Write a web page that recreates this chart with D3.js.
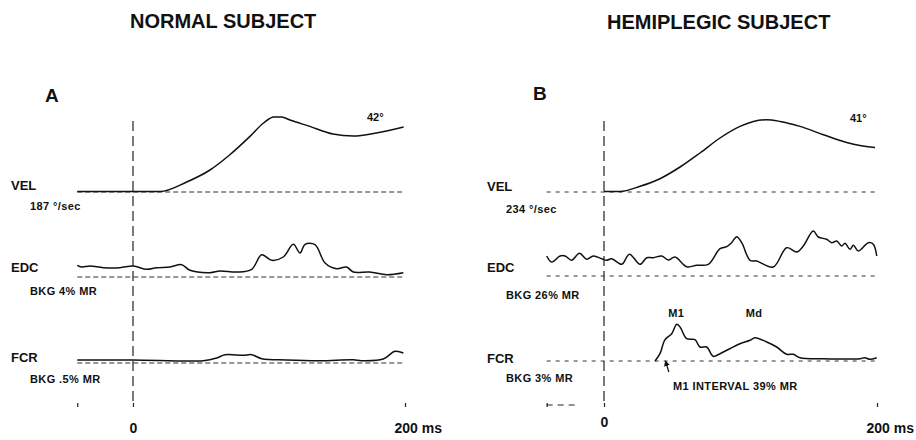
<!DOCTYPE html>
<html>
<head>
<meta charset="utf-8">
<script src="https://cdn.jsdelivr.net/npm/d3@7"></script>
<style>
  html, body { margin: 0; padding: 0; background: #fff; }
  svg { display: block; }
  text { font-family: "Liberation Sans", Arial, Helvetica, sans-serif; font-weight: bold; fill: #111; }
  .note { font-size: 11px; letter-spacing: 0.4px; }
</style>
</head>
<body>
<script>
// traces: [ms, amplitude above baseline]
const velA = [[-41,0.5],[0,0.5],[20,0.5],[39.5,10],[56.6,22],[71,37],[86,55.6],[96,69],[103.5,75],[109.3,75],
  [115.4,72],[130,65.6],[147,58],[162,56],[179,59],[199,65]];
const edcA = [[-41,11.7],[-37.7,10],[-31.6,11],[-21.8,9.3],[-9.6,9.3],[0.2,11],[10,7.7],[17.4,9.3],[27.2,10],
  [35.8,12.3],[41.9,6.7],[56.6,4.3],[64,6],[76.2,5],[87.3,7.7],[94.6,22.3],[102,16.7],[110.5,20],[117.9,32.7],
  [122.8,24],[126.5,32.7],[133.8,32.3],[141.2,14],[149.8,8.3],[157,10],[162,5],[174,5],[186.5,2.3],[198.8,4.3]];
const fcrA = [[-41,3],[0,3],[51.7,2.3],[61.5,5],[67.6,8.3],[81,7.7],[87.3,8.3],[94.6,4.3],[113,3],[137.5,2.3],
  [162,3.3],[168,2.3],[184,4],[192.6,11.7],[198.8,10]];

const velB = [[0,0.5],[11.7,0.5],[26.4,5.7],[41,13.3],[55.7,25],[70.3,39],[85,54],[99.6,65.6],[109.4,70.6],
  [119.2,72.3],[129,70.6],[143.6,65.6],[160.7,57.3],[177.8,49.6],[187.5,46.6],[198.5,44.6]];
const edcB = [[-42,20],[-38.3,14],[-32.2,20],[-28.5,20],[-23.7,15.7],[-18,22.7],[-12.7,16.7],[-7.8,20],[-1.7,17.3],
  [2,15.7],[5.6,17.3],[13,11.7],[18.6,21.7],[26.4,11.7],[31.3,18.3],[36.1,18.3],[42.3,20],[47,16],[52,19],
  [60.6,9.3],[67.9,10.7],[76.4,11.7],[85,27.3],[89.9,29.3],[93.5,33.3],[97.2,39.3],[100.9,33.3],[107,15.7],
  [111.8,15],[124,9],[133.8,28.3],[141.2,24],[146,30],[153.3,45],[157,39],[163.1,36.7],[166.8,33.3],[170.5,35],
  [174.1,30],[176.6,32.7],[180.2,26.7],[182.7,30.7],[186.4,25],[193.7,33.3],[197.3,31.7],[199.8,20]];
const fcrB = [[37.4,0],[41,7.3],[44.7,21.3],[49.6,27.3],[53.3,36.7],[55.7,34],[60.6,22.3],[66.7,21.3],[70.3,14],
  [75.2,14],[80,4.7],[85,7.3],[99.6,17.3],[107,20.7],[110.6,23.3],[119.2,19],[126.5,14],[133.8,6.7],[138.7,6.7],
  [143.6,3.3],[160.7,2.3],[187.5,2.3],[191.2,3.3],[194.8,1.7],[199.8,3.3]];

const titles = ["NORMAL SUBJECT", "HEMIPLEGIC SUBJECT"];
const panelLetters = ["A", "B"];
const rowNames = ["VEL", "EDC", "FCR"];
const scaleNotesA = ["187 °/sec", "BKG 4% MR", "BKG .5% MR"];
const scaleNotesB = ["234 °/sec", "BKG 26% MR", "BKG 3% MR"];
const endAngles = ["42°", "41°"];
const tickValuesA = [-41, 0, 200];
const tickValuesB = [-42, 0, 200];

const W = 916, H = 440;
const svg = d3.select("body").append("svg").attr("width", W).attr("height", H);

const panels = [
  { x0: 133, x200: 405, start: -41, bases: [192, 277, 363], title: [130, 28], letter: [45, 102],
    lab: 11, note: 30, notes: scaleNotesA, traces: [velA, edcA, fcrA], ticks: tickValuesA, angle: [367, 121] },
  { x0: 604, x200: 877, start: -42, bases: [192, 276, 361], title: [607, 29], letter: [533, 100],
    lab: 487, note: 506, notes: scaleNotesB, traces: [velB, edcB, fcrB], ticks: tickValuesB, angle: [850, 122] }
];

const labelY = [[190, 272, 362], [191, 272, 363]];
const noteY = [[210, 295, 383], [213, 299, 382]];

panels.forEach((p, i) => {
  const g = svg.append("g");
  const x = d3.scaleLinear().domain([0, 200]).range([p.x0, p.x200]);

  g.append("text").attr("x", p.title[0]).attr("y", p.title[1]).style("font-size", "20px").text(titles[i]);
  g.append("text").attr("x", p.letter[0]).attr("y", p.letter[1]).style("font-size", "19px").text(panelLetters[i]);

  // time-zero marker
  g.append("line")
    .attr("x1", x(0)).attr("x2", x(0)).attr("y1", 121).attr("y2", 405)
    .attr("stroke", "#222").attr("stroke-width", 1.2).attr("stroke-dasharray", "10,5");

  p.traces.forEach((tr, r) => {
    const y = d3.scaleLinear().domain([0, 100]).range([p.bases[r], p.bases[r] - 100]);
    // baseline
    g.append("line")
      .attr("x1", x(p.start)).attr("x2", x(200)).attr("y1", y(0)).attr("y2", y(0))
      .attr("stroke", "#333").attr("stroke-width", 1).attr("stroke-dasharray", i ? "4,5" : "5,3");
    const line = d3.line()
      .x(d => x(d[0])).y(d => y(d[1]))
      .curve(r === 0 ? d3.curveMonotoneX : d3.curveCatmullRom.alpha(0.5));
    g.append("path").datum(tr).attr("d", line)
      .attr("fill", "none").attr("stroke", "#111").attr("stroke-width", 1.5).attr("stroke-linejoin", "round");

    g.append("text").attr("x", p.lab).attr("y", labelY[i][r]).style("font-size", "13px").text(rowNames[r]);
    g.append("text").attr("class", "note").attr("x", p.note).attr("y", noteY[i][r]).text(p.notes[r]);
  });

  g.append("text").attr("x", p.angle[0]).attr("y", p.angle[1]).style("font-size", "11px").text(endAngles[i]);

  // time axis
  const ax = g.append("g").attr("transform", "translate(0,407)")
    .call(d3.axisBottom(x).tickValues(p.ticks).tickSize(-4).tickPadding(16)
      .tickFormat(d => d === 0 ? "0" : d === 200 ? "200 ms" : ""));
  ax.select(".domain").remove();
  ax.selectAll("line").attr("stroke", "#222").attr("stroke-width", 1.2);
  ax.selectAll("text")
    .style("font-size", "14px").style("font-family", null).attr("fill", "#111")
    .attr("text-anchor", d => d === 200 ? "start" : "middle")
    .attr("x", d => d === 200 ? -11 : 0)
    .attr("dy", d => (i === 1 && d === 0) ? "0.3em" : "0.71em");
  if (i === 1) {
    g.append("line")
      .attr("x1", x(-42)).attr("x2", x(-20)).attr("y1", 405).attr("y2", 405)
      .attr("stroke", "#222").attr("stroke-width", 1.2).attr("stroke-dasharray", "6,5");
  }
});

// M1 / Md annotations on hemiplegic FCR
const xB = d3.scaleLinear().domain([0, 200]).range([604, 877]);
const yB = d3.scaleLinear().domain([0, 100]).range([361, 261]);
const annot = [["M1", 53], ["Md", 110]];
annot.forEach(a => {
  svg.append("text").attr("class", "note").attr("x", xB(a[1])).attr("y", 317).attr("text-anchor", "middle").text(a[0]);
});
svg.append("text").attr("class", "note").attr("x", 673).attr("y", 390).text("M1 INTERVAL 39% MR");

svg.append("defs").append("marker").attr("id", "arr").attr("viewBox", "0 0 10 10")
  .attr("refX", 5).attr("refY", 5).attr("markerWidth", 5).attr("markerHeight", 6).attr("orient", "auto")
  .append("path").attr("d", "M0,0 L10,5 L0,10 z").attr("fill", "#111");
svg.append("line")
  .attr("x1", xB(47.5)).attr("y1", yB(-11)).attr("x2", xB(45.5)).attr("y2", yB(-2))
  .attr("stroke", "#111").attr("stroke-width", 1.2).attr("marker-end", "url(#arr)");
</script>
</body>
</html>
